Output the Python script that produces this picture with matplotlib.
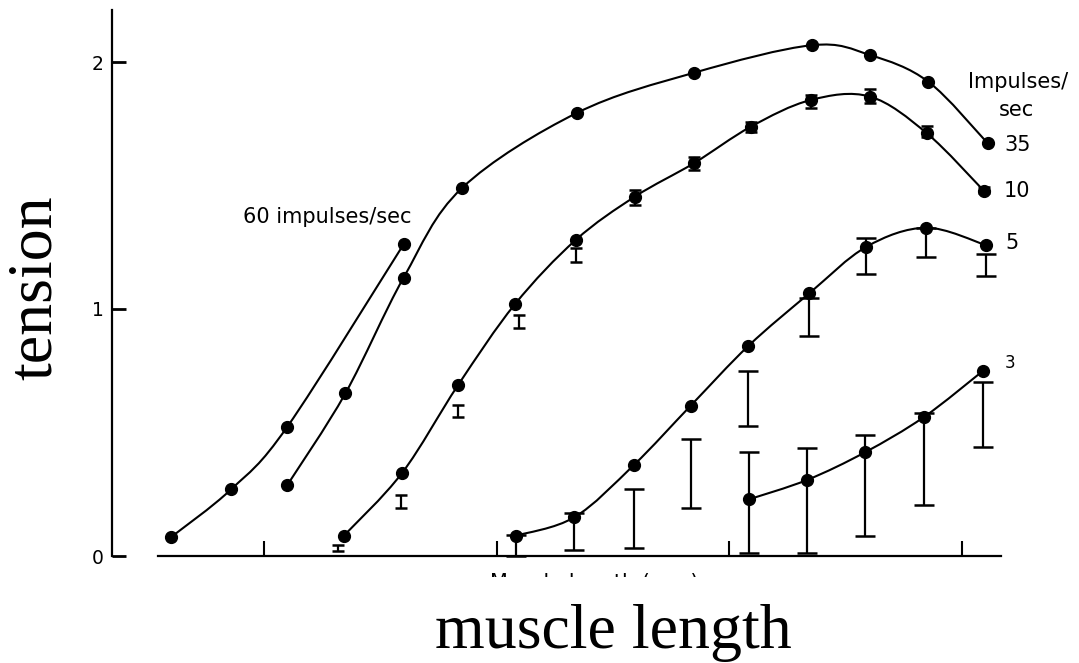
import matplotlib
matplotlib.use("Agg")
import matplotlib.pyplot as plt
import matplotlib.patches as mpatches
from matplotlib.path import Path
from matplotlib.transforms import Bbox, TransformedBbox
import numpy as np

# (x in tick units, y in tension units)
x60 = [0.60, 0.86, 1.10, 1.60]
y60 = [0.076, 0.271, 0.523, 1.262]

x35 = [1.10, 1.35, 1.60, 1.85, 2.345, 2.85, 3.355, 3.605, 3.855, 4.11]
y35 = [0.287, 0.659, 1.127, 1.489, 1.794, 1.957, 2.068, 2.028, 1.920, 1.671]

x10 = [1.343, 1.594, 1.834, 2.078, 2.339, 2.594, 2.847, 3.092, 3.349, 3.604, 3.849, 4.094]
y10 = [0.082, 0.337, 0.692, 1.019, 1.279, 1.455, 1.590, 1.738, 1.846, 1.860, 1.711, 1.478]
err10_x = [1.32, 1.59, 1.835, 2.095, 2.339, 2.594, 2.847, 3.092, 3.349, 3.604, 3.849, 4.094]
err10_lo = [0.020, 0.194, 0.563, 0.923, 1.190, 1.421, 1.563, 1.717, 1.814, 1.834, 1.696, 1.470]
err10_hi = [0.045, 0.247, 0.611, 0.976, 1.247, 1.482, 1.615, 1.757, 1.866, 1.891, 1.741, 1.494]

x5 = [2.081, 2.334, 2.589, 2.834, 3.082, 3.344, 3.589, 3.845, 4.101]
y5 = [0.082, 0.157, 0.368, 0.609, 0.851, 1.064, 1.252, 1.329, 1.259]
err5_x = [2.081, 2.334, 2.589, 2.834, 3.082, 3.344, 3.589, 3.845, 4.101]
err5_lo = [0.0, 0.024, 0.031, 0.193, 0.526, 0.891, 1.142, 1.209, 1.134]
err5_hi = [0.085, 0.175, 0.271, 0.472, 0.750, 1.045, 1.289, 1.329, 1.223]

x3 = [3.086, 3.334, 3.583, 3.835, 4.089]
y3 = [0.230, 0.308, 0.420, 0.562, 0.749]
err3_lo = [0.011, 0.013, 0.082, 0.206, 0.443]
err3_hi = [0.422, 0.436, 0.490, 0.578, 0.706]

xticks = [1, 2, 3, 4]
yticks = [0, 1, 2]


def smooth_path(xs, ys):
    # catmull-rom through the measured points, as bezier segments
    pts = np.column_stack([xs, ys])
    verts = [pts[0]]
    codes = [Path.MOVETO]
    n = len(pts)
    for i in range(n - 1):
        p0 = pts[i - 1] if i > 0 else pts[i]
        p1 = pts[i]
        p2 = pts[i + 1]
        p3 = pts[i + 2] if i + 2 < n else pts[i + 1]
        verts += [p1 + (p2 - p0) / 6, p2 - (p3 - p1) / 6, p2]
        codes += [Path.CURVE4] * 3
    return Path(verts, codes)


W, H = 1079, 663
fig = plt.figure(figsize=(W / 100, H / 100), dpi=100)
ax_l, ax_r, ax_top, ax_bot = 112, 1079, 10, 556
ax = fig.add_axes([ax_l / W, (H - ax_bot) / H, (ax_r - ax_l) / W, (ax_bot - ax_top) / H])

def px_to_x(px):
    return 1 + (px - 264) / 232.7

ax.set_xlim(px_to_x(ax_l), px_to_x(ax_r))
ax.set_ylim(0, (ax_bot - ax_top) / 247.0)

for s in ["top", "right"]:
    ax.spines[s].set_visible(False)
ax.spines["left"].set_linewidth(1.6)
ax.spines["bottom"].set_linewidth(1.6)
ax.spines["bottom"].set_bounds(px_to_x(158), px_to_x(1001))

ax.set_yticks(yticks)
ax.set_yticklabels([str(t) for t in yticks], fontsize=13.5, fontfamily="DejaVu Sans")
ax.tick_params(axis="y", direction="in", length=10, width=2, pad=6)
ax.set_xticks(xticks)
ax.set_xticklabels([])
ax.tick_params(axis="x", direction="in", length=11, width=1.5)

lw = 1.5
for xs, ys in [(x60, y60), (x35, y35), (x10, y10), (x5, y5), (x3, y3)]:
    ax.add_patch(mpatches.PathPatch(smooth_path(xs, ys), fill=False, lw=lw, color="black", clip_on=False))
    ax.plot(xs, ys, "o", color="black", ms=8.5, clip_on=False, zorder=3)

def bars(xs, lo, hi, cap):
    lo = np.array(lo)
    hi = np.array(hi)
    ax.errorbar(xs, (lo + hi) / 2, yerr=(hi - lo) / 2, fmt="none", ecolor="black",
                elinewidth=1.6, capsize=cap, capthick=1.8, clip_on=False, zorder=2)

bars(err10_x, err10_lo, err10_hi, 4.5)
bars(err5_x, err5_lo, err5_hi, 7)
bars(x3, err3_lo, err3_hi, 7)

lab = dict(fontsize=15, family="DejaVu Sans", color="black")
ax.text(px_to_x(243), 1.372, "60 impulses/sec", ha="left", va="center", **lab)
ax.text(px_to_x(968), 1.919, "Impulses/", ha="left", va="center", **lab)
ax.text(px_to_x(1016), 1.806, "sec", ha="center", va="center", **lab)
ax.text(px_to_x(1004), 1.664, "35", ha="left", va="center", **lab)
ax.text(px_to_x(1004), 1.479, "10", ha="left", va="center", **lab)
ax.text(px_to_x(1005), 1.267, "5", ha="left", va="center", **lab)
ax.text(px_to_x(1005), 0.780, "3", ha="left", va="center", fontsize=12, family="DejaVu Sans")

# original axis caption, mostly cut off in the scan
cut = fig.text(490 / W, 1 - 573 / H, "Muscle length (mm)", ha="left", va="top", fontsize=15, family="DejaVu Sans")
cut.set_clip_box(TransformedBbox(Bbox([[0, 1 - 577 / H], [1, 1]]), fig.transFigure))
cut.set_clip_on(True)

fig.text(36 / W, 1 - 288 / H, "tension", rotation=90, ha="center", va="center",
         fontsize=46, family="Liberation Serif")
fig.text(613 / W, 1 - 648 / H, "muscle length", ha="center", va="baseline",
         fontsize=46, family="Liberation Serif")

fig.savefig("out.png", dpi=100)
